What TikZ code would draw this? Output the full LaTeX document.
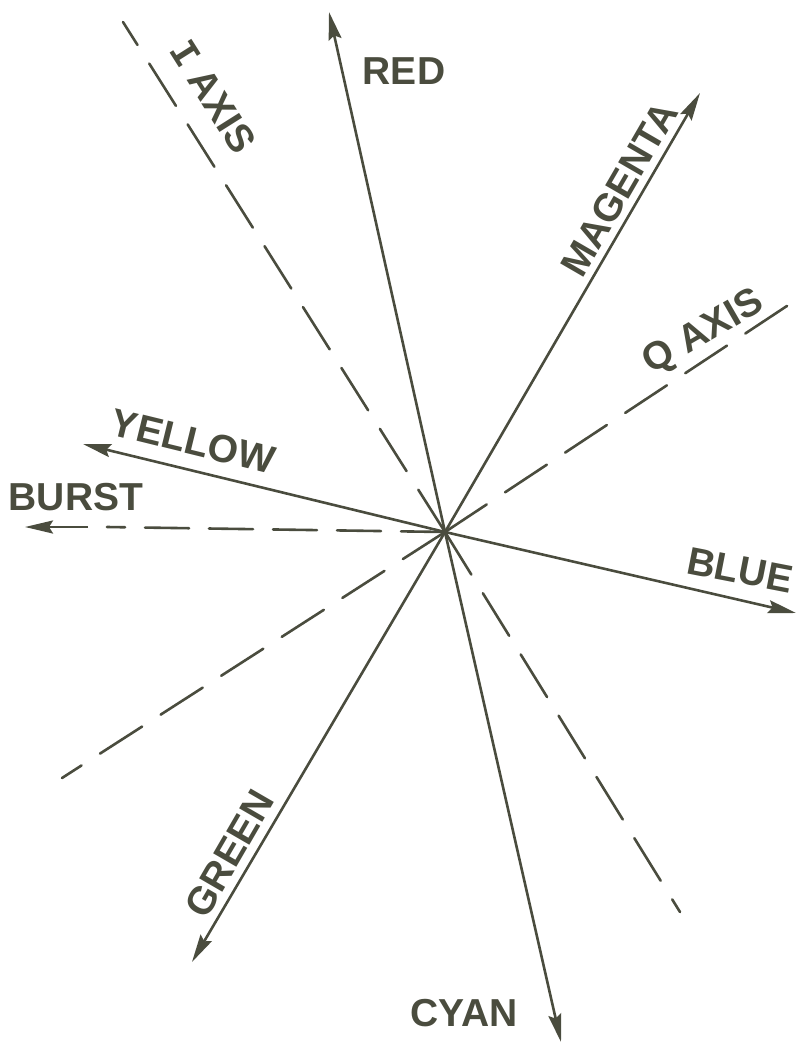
\documentclass[tikz,border=0pt]{standalone}
\usepackage{fontspec}
\setmainfont{Liberation Sans}
\newfontfamily\labfont{Liberation Sans}
\newfontfamily\serifI{Liberation Mono}
\usetikzlibrary{arrows.meta}
\definecolor{ink}{RGB}{74,76,62}
\begin{document}
\begin{tikzpicture}[x=1pt,y=-1pt,
  vec/.style={draw=ink,line width=2.6pt,-{Stealth[length=28pt,width=13pt,inset=4pt]}},
  axisline/.style={draw=ink,line width=2.6pt,line cap=round,dash pattern=on 50pt off 22pt},
  burstline/.style={draw=ink,line width=2.6pt,line cap=round,dash pattern=on 44pt off 20pt},
  lab/.style={text=ink,font=\labfont\bfseries\fontsize{39}{39}\selectfont,inner sep=0pt,text depth=0pt}]
\useasboundingbox (0,0) rectangle (799,1045);
\coordinate (O) at (445,532);
% end points
\coordinate (red) at (329,12);
\coordinate (cyan) at (561,1042);
\coordinate (magenta) at (700,93);
\coordinate (green) at (192,962);
\coordinate (yellow) at (83,444);
\coordinate (blue) at (796,613);
\coordinate (burst) at (25,527);
\coordinate (burstshaft) at (88,527);
\coordinate (burstgap) at (107,527);
\coordinate (itop) at (123,22);
\coordinate (ibot) at (680,912);
\coordinate (qtop) at (799,298);
\coordinate (qbot) at (62,778);
% dashed axes
\draw[axisline] (O) -- (itop);
\draw[axisline] (O) -- (ibot);
\draw[axisline] (O) -- (qtop);
\draw[axisline] (O) -- (qbot);
\draw[burstline] (O) -- (burstgap);
\draw[vec] (burstshaft) -- (burst);
% colour vectors
\draw[vec] (O) -- (red);
\draw[vec] (O) -- (cyan);
\draw[vec] (O) -- (magenta);
\draw[vec] (O) -- (green);
\draw[vec] (O) -- (yellow);
\draw[vec] (O) -- (blue);
% labels
\node[lab] (tred) at (404,71) {RED};
\node[lab,rotate=-57.7] (tiaxis) at (213,96) {{\serifI\bfseries I} AXIS};
\node[lab,rotate=59.9] (tmagenta) at (619,189) {MAGENTA};
\node[lab,rotate=30] (tqaxis) at (702,330) {Q AXIS};
\node[lab,rotate=-13.8] (tyellow) at (193,441) {YELLOW};
\node[lab] (tburst) at (76,497) {BURST};
\node[lab,rotate=-11] (tblue) at (740,570) {BLUE};
\node[lab,rotate=59.9] (tgreen) at (229.5,853.5) {GREEN};
\node[lab] (tcyan) at (464,1013) {CYAN};
\end{tikzpicture}
\end{document}
